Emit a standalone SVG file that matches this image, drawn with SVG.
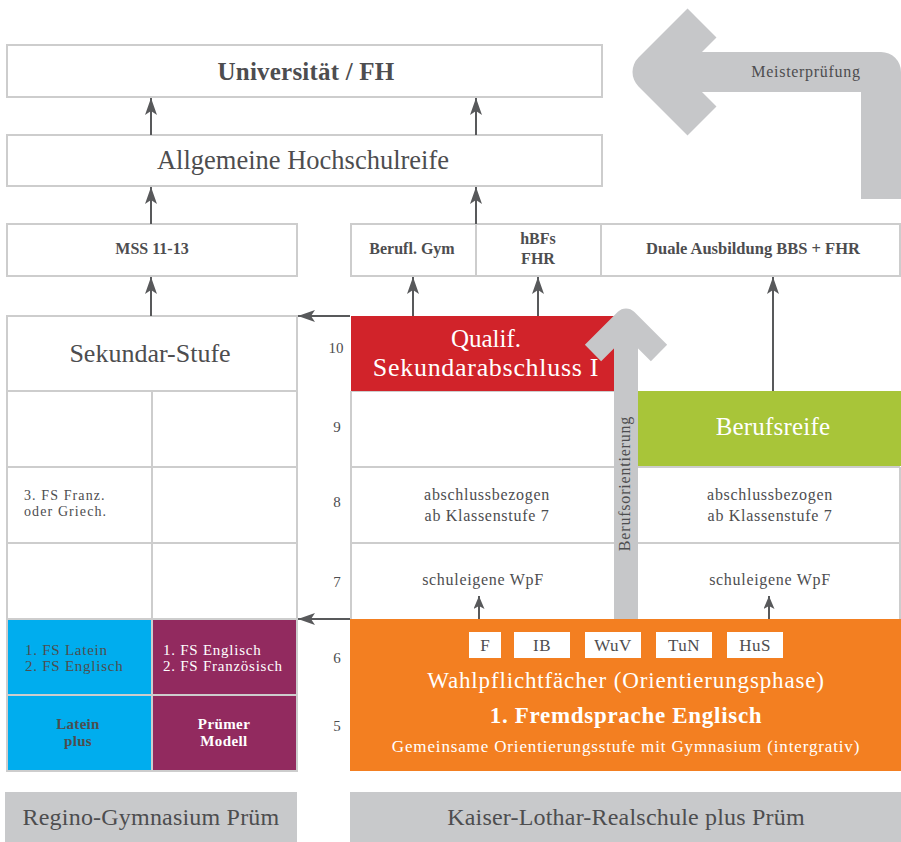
<svg xmlns="http://www.w3.org/2000/svg" width="901" height="842" viewBox="0 0 901 842">
<style>
.t{font-family:'Liberation Serif','DejaVu Serif',serif;fill:#4d4d4f}
.w{fill:#ffffff}
.b{font-weight:bold}
.m{text-anchor:middle}
.box{fill:#ffffff;stroke:#cdcdcd;stroke-width:2}
.ln{stroke:#cdcdcd;stroke-width:2;fill:none}
.con{stroke:#58595b;stroke-width:2;fill:none;marker-end:url(#ah)}
.cons{stroke:#58595b;stroke-width:2;fill:none;marker-end:url(#ahs)}
.sm{font-size:16px;letter-spacing:0.7px}
.fs{font-size:15px;letter-spacing:0.75px}
.chip{fill:#ffffff}
</style>
<defs>
<marker id="ah" markerUnits="userSpaceOnUse" markerWidth="17" markerHeight="12" viewBox="0 0 17 12" refX="17" refY="6" orient="auto"><path d="M17 6 L0 0 L4 6 L0 12 Z" fill="#58595b"/></marker>
<marker id="ahs" markerUnits="userSpaceOnUse" markerWidth="13" markerHeight="11" viewBox="0 0 13 11" refX="13" refY="5.5" orient="auto"><path d="M13 5.5 L0 0 L3 5.5 L0 11 Z" fill="#58595b"/></marker>
</defs>
<rect width="901" height="842" fill="#ffffff"/>

<g id="meisterpruefung">
<path d="M702 23 L653 72 L702 121" fill="none" stroke="#c6c7c9" stroke-width="41" stroke-linejoin="round"/>
<path d="M660 72 H881 V199" fill="none" stroke="#c6c7c9" stroke-width="40" stroke-linejoin="round"/>
<text class="t m" x="806" y="77" font-size="16" letter-spacing="0.7">Meisterprüfung</text>
</g>

<g id="universitaet">
<rect class="box" x="7" y="45" width="595" height="52"/>
<text class="t m b" x="306" y="80" font-size="25" letter-spacing="0.2">Universität / FH</text>
</g>
<g id="hochschulreife">
<rect class="box" x="7" y="135" width="595" height="51"/>
<text class="t m" x="303" y="169" font-size="26.5">Allgemeine Hochschulreife</text>
</g>
<g id="mss">
<rect class="box" x="7" y="224" width="290" height="52"/>
<text class="t m b" x="152" y="254" font-size="16">MSS 11-13</text>
</g>
<g id="berufl-gym">
<rect class="box" x="351" y="224" width="125" height="52"/>
<text class="t m b" x="412" y="254" font-size="16">Berufl. Gym</text>
</g>
<g id="hbfs">
<rect class="box" x="476" y="224" width="125" height="52"/>
<text class="t m b" font-size="16"><tspan x="538" y="244">hBFs</tspan><tspan x="538" y="264">FHR</tspan></text>
</g>
<g id="duale">
<rect class="box" x="601" y="224" width="299" height="52"/>
<text class="t m b" x="753" y="254" font-size="16.5">Duale Ausbildung BBS + FHR</text>
</g>

<g id="sekundar-stufe">
<rect class="box" x="7" y="316" width="290" height="75"/>
<text class="t m" x="150" y="362" font-size="26">Sekundar-Stufe</text>
</g>
<g id="gym-grid">
<rect class="box" x="7" y="391" width="145" height="76"/>
<rect class="box" x="152" y="391" width="145" height="76"/>
<rect class="box" x="7" y="467" width="145" height="76"/>
<rect class="box" x="152" y="467" width="145" height="76"/>
<rect class="box" x="7" y="543" width="145" height="76"/>
<rect class="box" x="152" y="543" width="145" height="76"/>
<text class="t" font-size="14" letter-spacing="1.1"><tspan x="24" y="500">3. FS Franz.</tspan><tspan x="24" y="515.8">oder Griech.</tspan></text>
</g>
<g id="latein">
<rect x="7" y="619" width="145" height="76" fill="#00adee" stroke="#cdcdcd" stroke-width="2"/>
<text class="t fs"><tspan x="25" y="654.5">1. FS Latein</tspan><tspan x="25" y="671.3">2. FS Englisch</tspan></text>
</g>
<g id="latein-plus">
<rect x="7" y="695" width="145" height="76" fill="#00adee" stroke="#cdcdcd" stroke-width="2"/>
<text class="t m b" font-size="15" letter-spacing="0.3"><tspan x="78" y="728.5">Latein</tspan><tspan x="78" y="745.5">plus</tspan></text>
</g>
<g id="englisch">
<rect x="152" y="619" width="145" height="76" fill="#922a5f" stroke="#cdcdcd" stroke-width="2"/>
<text class="t fs w"><tspan x="163" y="654.5">1. FS Englisch</tspan><tspan x="163" y="671.3">2. FS Französisch</tspan></text>
</g>
<g id="pruemer-modell">
<rect x="152" y="695" width="145" height="76" fill="#922a5f" stroke="#cdcdcd" stroke-width="2"/>
<text class="t m b w" font-size="15" letter-spacing="0.4"><tspan x="224" y="728.5">Prümer</tspan><tspan x="224" y="745.5">Modell</tspan></text>
</g>

<g id="realschule-grid">
<path class="ln" d="M351 391 V619 M900 467 V619 M351 391 H638 M351 467 H900 M351 543 H900"/>
<text class="t m sm"><tspan x="487" y="500">abschlussbezogen</tspan><tspan x="487" y="521">ab Klassenstufe 7</tspan></text>
<text class="t m sm"><tspan x="770" y="500">abschlussbezogen</tspan><tspan x="770" y="521">ab Klassenstufe 7</tspan></text>
<text class="t m sm" x="483" y="585">schuleigene WpF</text>
<text class="t m sm" x="770" y="585">schuleigene WpF</text>
</g>
<g id="qualif">
<rect x="351" y="316" width="275" height="75" fill="#d1232a"/>
<text class="t m w" x="486" y="347" font-size="25">Qualif.</text>
<text class="t m w" x="486" y="376" font-size="26" letter-spacing="0.7">Sekundarabschluss I</text>
</g>
<g id="berufsreife">
<rect x="638" y="391" width="263" height="75" fill="#a8c539"/>
<text class="t m w" x="773" y="435" font-size="25" letter-spacing="0.2">Berufsreife</text>
</g>
<g id="orientierungsstufe">
<rect x="350" y="619" width="551" height="152" fill="#f37f21"/>
<rect class="chip" x="469" y="632" width="32" height="26"/>
<rect class="chip" x="514" y="632" width="56" height="26"/>
<rect class="chip" x="585" y="632" width="56" height="26"/>
<rect class="chip" x="656" y="632" width="56" height="26"/>
<rect class="chip" x="727" y="632" width="56" height="26"/>
<text class="t m" x="485" y="651" font-size="17">F</text>
<text class="t m" x="542" y="651" font-size="17" letter-spacing="0.5">IB</text>
<text class="t m" x="613" y="651" font-size="17" letter-spacing="0.5">WuV</text>
<text class="t m" x="684" y="651" font-size="17" letter-spacing="0.5">TuN</text>
<text class="t m" x="755" y="651" font-size="17" letter-spacing="0.5">HuS</text>
<text class="t m w" x="626" y="688" font-size="23" letter-spacing="0.85">Wahlpflichtfächer (Orientierungsphase)</text>
<text class="t m w b" x="626" y="723" font-size="23" letter-spacing="0.7">1. Fremdsprache Englisch</text>
<text class="t m w" x="626" y="752" font-size="17" letter-spacing="0.85">Gemeinsame Orientierungsstufe mit Gymnasium (intergrativ)</text>
</g>

<g id="berufsorientierung">
<path d="M626 619 V322" fill="none" stroke="#c6c7c9" stroke-width="24"/>
<path d="M593 353 L626 320 L659 353" fill="none" stroke="#c6c7c9" stroke-width="23" stroke-linejoin="round"/>
<text class="t m" transform="translate(630,483.5) rotate(-90)" font-size="16" letter-spacing="0.8">Berufsorientierung</text>
</g>

<g id="klassenstufen">
<text class="t m" x="336" y="353" font-size="15">10</text>
<text class="t m" x="337" y="432" font-size="15">9</text>
<text class="t m" x="337" y="507" font-size="15">8</text>
<text class="t m" x="337" y="587" font-size="15">7</text>
<text class="t m" x="337" y="663" font-size="15">6</text>
<text class="t m" x="337" y="731" font-size="15">5</text>
</g>

<g id="connectors">
<path class="con" d="M151 135 V98"/>
<path class="con" d="M476 135 V98"/>
<path class="con" d="M151 224 V187"/>
<path class="con" d="M476 224 V187"/>
<path class="con" d="M151 316 V277"/>
<path class="con" d="M413 316 V277"/>
<path class="con" d="M538 316 V277"/>
<path class="con" d="M773 391 V277"/>
<path class="con" d="M350 316 H298"/>
<path class="con" d="M350 619 H298"/>
<path class="cons" d="M479 619 V596"/>
<path class="cons" d="M769 619 V596"/>
</g>

<g id="regino-gymnasium">
<rect x="5" y="792" width="292" height="50" fill="#c8c9cb"/>
<text class="t m" x="151" y="825" font-size="24" letter-spacing="0.2">Regino-Gymnasium Prüm</text>
</g>
<g id="kaiser-lothar-realschule">
<rect x="350" y="792" width="551" height="50" fill="#c8c9cb"/>
<text class="t m" x="626" y="825" font-size="24" letter-spacing="0.2">Kaiser-Lothar-Realschule plus Prüm</text>
</g>
</svg>
